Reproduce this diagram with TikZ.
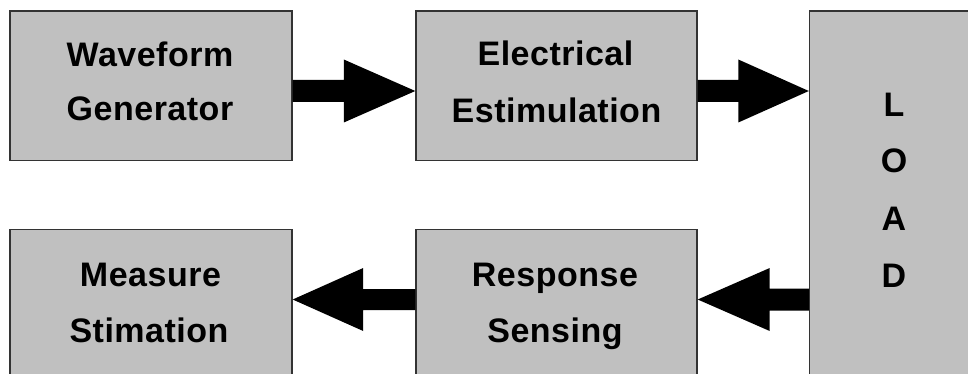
\documentclass[tikz,border=0pt]{standalone}
\usepackage{fontspec}
\newfontfamily\lblfont{Liberation Sans}[LetterSpace=1.5]
\usetikzlibrary{calc}
\definecolor{boxfill}{HTML}{C0C0C0}
\definecolor{boxline}{HTML}{333333}
\tikzset{
  box/.style={draw=boxline, fill=boxfill, line width=1.4pt, inner sep=0pt},
  txt/.style={anchor=base, inner sep=0pt, font=\lblfont\bfseries\fontsize{34}{40}\selectfont},
  arr/.style={fill=black}
}
\begin{document}
\begin{tikzpicture}[x=1pt,y=-1pt]
\useasboundingbox (0,0) rectangle (968,374);
\clip (0,0) rectangle (968,374);
\fill[white] (0,0) rectangle (968,374);
% boxes
\node[box, minimum width=282pt, minimum height=149.5pt] (wg) at (151,85.75) {};
\node[box, minimum width=281pt, minimum height=149.5pt] (ee) at (556.5,85.75) {};
\node[box, minimum width=171pt, minimum height=409pt] (load) at (895,215.5) {};
\node[box, minimum width=282pt, minimum height=190pt] (ms) at (151,324.3) {};
\node[box, minimum width=281pt, minimum height=190pt] (rs) at (556.5,324.3) {};
% texts
\node[txt] (wg1) at (150,67) {Waveform};
\node[txt] (wg2) at (150,121) {Generator};
\node[txt] (ee1) at (555.5,66) {Electrical};
\node[txt] (ee2) at (556.5,122.5) {Estimulation};
\node[txt] (ms1) at (150.5,286.7) {Measure};
\node[txt] (ms2) at (149,342.7) {Stimation};
\node[txt] (rs1) at (555,286.7) {Response};
\node[txt] (rs2) at (555,342.5) {Sensing};
\node[txt] (l1) at (894,117) {L};
\node[txt] (l2) at (894,173) {O};
\node[txt] (l3) at (894,230) {A};
\node[txt] (l4) at (894,287) {D};
% arrows
\coordinate (a1s) at (wg.east |- 0,91);
\coordinate (a1t) at (ee.west |- 0,91);
\coordinate (a2s) at (ee.east |- 0,91);
\coordinate (a2t) at (load.west |- 0,91);
\coordinate (a3s) at (rs.west |- 0,299.5);
\coordinate (a3t) at (ms.east |- 0,299.5);
\coordinate (a4s) at (load.west |- 0,299.5);
\coordinate (a4t) at (rs.east |- 0,299.5);
\fill[arr] ($(a1s)+(0,-11)$) -- ($(a1t)+(-71.5,-11)$) -- ($(a1t)+(-71.5,-31.5)$) -- (a1t) -- ($(a1t)+(-71.5,31.5)$) -- ($(a1t)+(-71.5,11)$) -- ($(a1s)+(0,11)$) -- cycle;
\fill[arr] ($(a2s)+(0,-11)$) -- ($(a2t)+(-70.5,-11)$) -- ($(a2t)+(-70.5,-31.5)$) -- (a2t) -- ($(a2t)+(-70.5,31.5)$) -- ($(a2t)+(-70.5,11)$) -- ($(a2s)+(0,11)$) -- cycle;
\fill[arr] ($(a3s)+(0,-10.5)$) -- ($(a3t)+(70.5,-10.5)$) -- ($(a3t)+(70.5,-31.5)$) -- (a3t) -- ($(a3t)+(70.5,31.5)$) -- ($(a3t)+(70.5,10.5)$) -- ($(a3s)+(0,10.5)$) -- cycle;
\fill[arr] ($(a4s)+(0,-11)$) -- ($(a4t)+(72,-11)$) -- ($(a4t)+(72,-31.5)$) -- (a4t) -- ($(a4t)+(72,31.5)$) -- ($(a4t)+(72,11)$) -- ($(a4s)+(0,11)$) -- cycle;
\end{tikzpicture}
\end{document}
